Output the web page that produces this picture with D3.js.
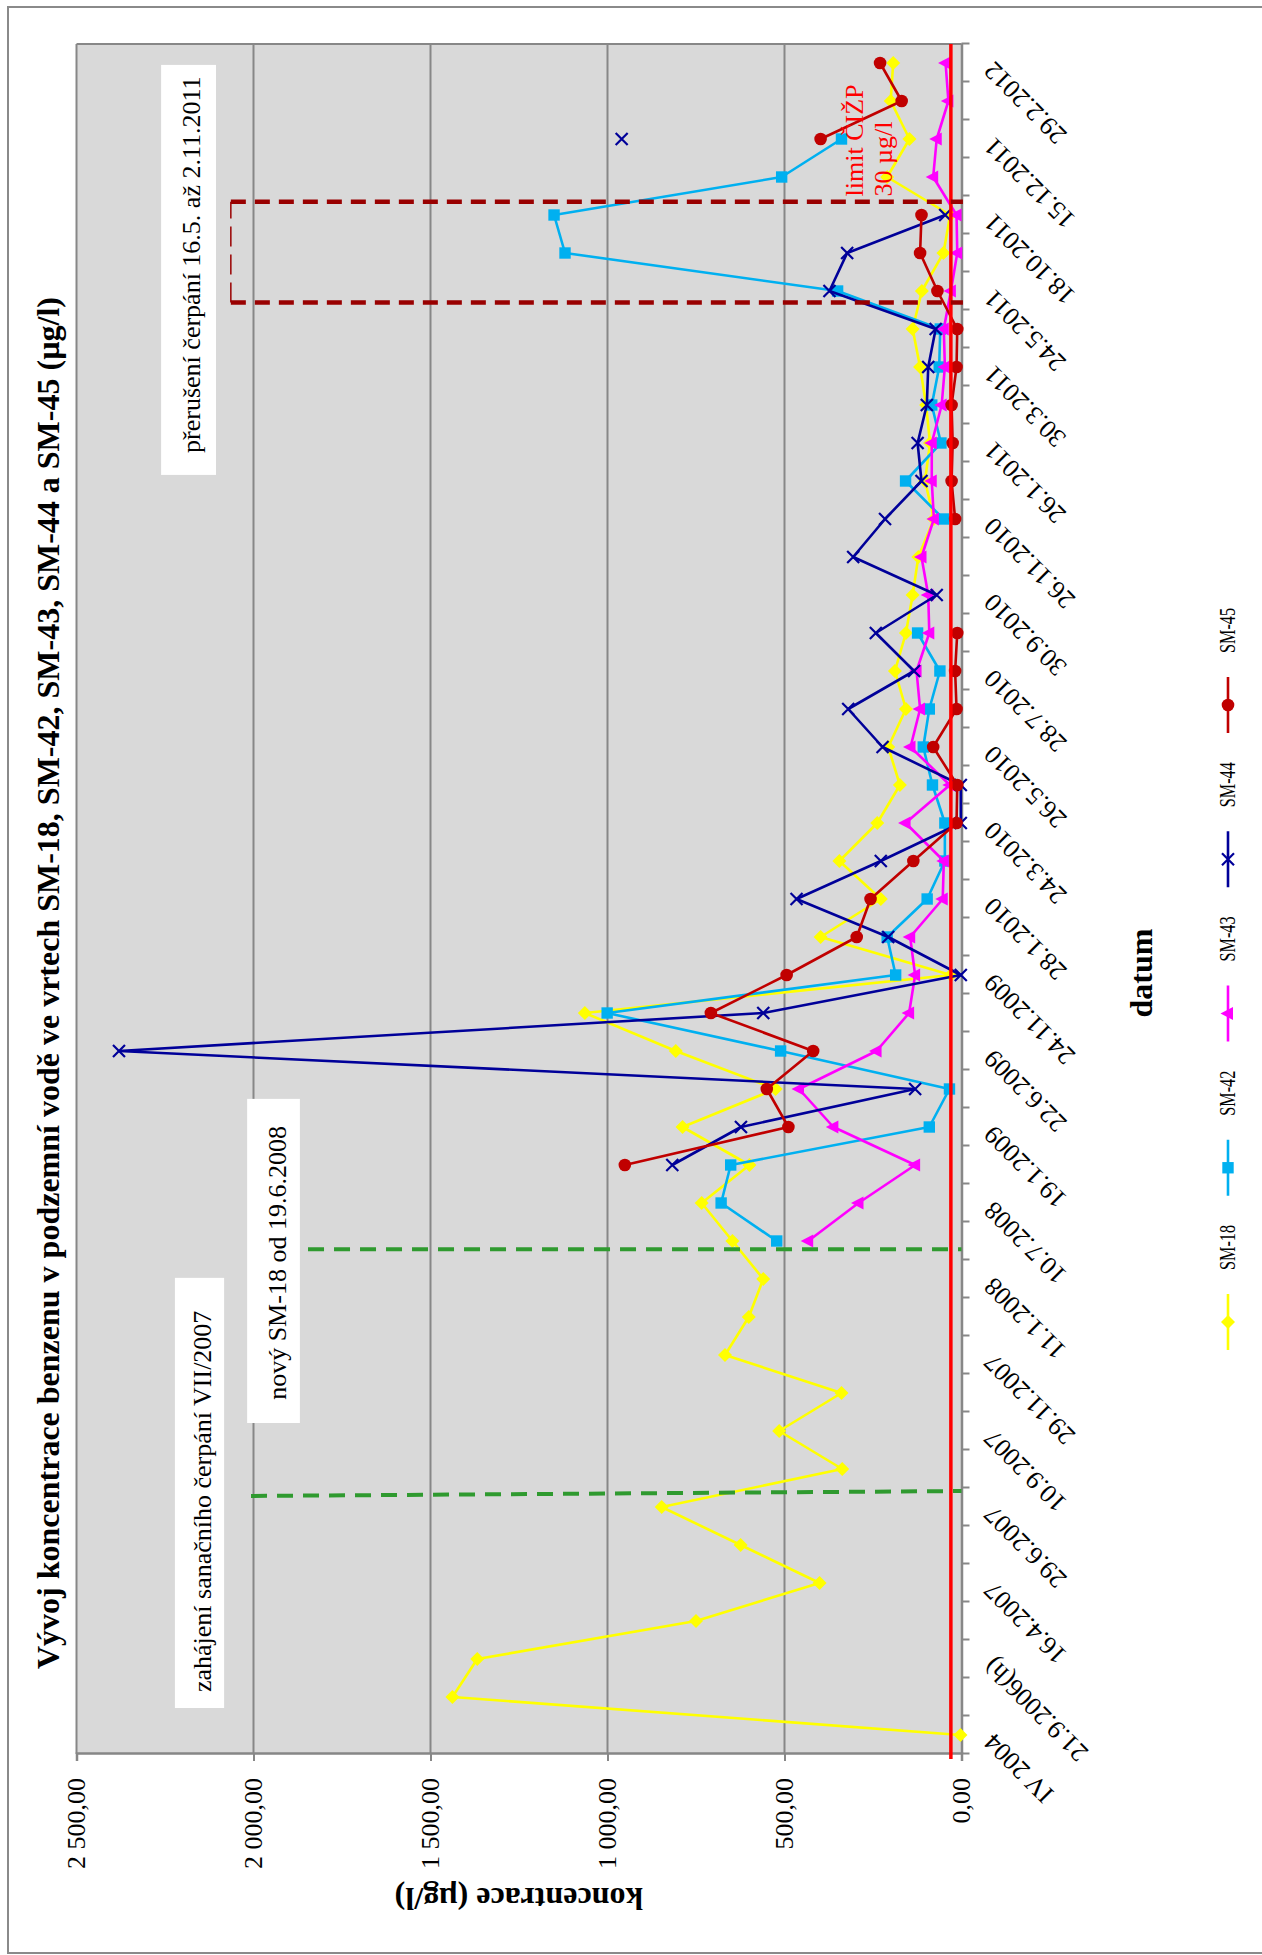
<!DOCTYPE html>
<html>
<head>
<meta charset="utf-8">
<script src="https://cdn.jsdelivr.net/npm/d3@7"></script>
<style>
  body { margin: 0; background: #fff; }
  svg { display: block; }
  text { font-family: "Liberation Serif", "Times New Roman", serif; }
</style>
</head>
<body>
<svg id="chart" width="1262" height="1955"></svg>
<script>
// ---- data -------------------------------------------------------------
// sampling campaigns (45 slots); only every second one carries a date label
const categories = d3.range(45);
const tickLabels = ["IV 2004", "21.9.2006(h)", "16.4.2007", "29.6.2007", "10.9.2007",
  "29.11.2007", "11.1.2008", "10.7.2008", "19.1.2009", "22.6.2009", "24.11.2009",
  "28.1.2010", "24.3.2010", "26.5.2010", "28.7.2010", "30.9.2010", "26.11.2010",
  "26.1.2011", "30.3.2011", "24.5.2011", "18.10.2011", "15.12.2011", "29.2.2012"];
const valueTicks = [0, 500, 1000, 1500, 2000, 2500];

const seriesNames = ["SM-18", "SM-42", "SM-43", "SM-44", "SM-45"];
const sm18 = [3, 1438, 1368, 750, 401, 624, 847, 337, 515, 339, 668, 601, 560, 647, 734,
  599, 788, 525, 807, 1064, 30, 398, 228, 345, 238, 174, 207, 157, 188, 157, 138, 122,
  78, 103, 89, 100, 117, 138, 112, 51, 32, 210, 147, 200, 193];
const sm42 = [null, null, null, null, null, null, null, null, null, null, null, null, null,
  522, 679, 652, 91, 34, 511, 1001, 186, 210, 97, 47, 47, 82, 108, 91, 61, 124, null, null,
  51, 158, 58, 84, 63, 60, 350, 1120, 1151, 508, 339, null, null];
const sm43 = [null, null, null, null, null, null, null, null, null, null, null, null, null,
  433, 291, 131, 362, 459, 240, 148, 131, 145, 53, 50, 158, 33, 144, 117, 127, 91, 94, 113,
  78, 84, 84, 56, 47, 50, 30, 12, 14, 80, 70, 37, 45];
const sm44 = [null, null, null, null, null, null, null, null, null, null, null, null, null,
  null, null, 817, 623, 131, 2380, 560, 2, 207, 466, 228, 2, 2, 223, 320, 134, 242, 70,
  306, 216, 113, 124, 98, 94, 73, 373, 323, 46, null, 960, null, null];
const sm45 = [null, null, null, null, null, null, null, null, null, null, null, null, null,
  null, null, 951, 489, 550, 419, 708, 494, 296, 257, 136, 14, 12, 80, 14, 18, 12, null,
  null, 18, 28, 25, 28, 14, 12, 68, 117, 113, null, 398, 169, 230];
const seriesValues = [sm18, sm42, sm43, sm44, sm45];

const limitValue = 30; // limit ČIŽP, µg/l

// ---- styling ----------------------------------------------------------
const seriesColors = ["#ffff00", "#00b0f0", "#ff00ff", "#000099", "#c00000"];
const seriesMarkers = ["diamond", "square", "triangle", "cross", "circle"];
const axisGrey = "#878787";

// ---- frame ------------------------------------------------------------
// The chart is laid out in a landscape frame (1955 x 1262) and turned
// a quarter turn counter-clockwise onto the portrait page.
const FW = 1955;
const plot = { left: 201, right: 1911, top: 76.5, bottom: 961.5 };

const svg = d3.select("#chart");

// outer frame
svg.append("path")
  .attr("d", "M1262,7 L8,7 L8,1953 L1262,1953")
  .attr("fill", "none").attr("stroke", "#8a8a8a").attr("stroke-width", 2);

const g = svg.append("g").attr("transform", `translate(0,${FW}) rotate(-90)`);

const x = d3.scaleBand().domain(categories).range([plot.left, plot.right]).paddingInner(0).paddingOuter(0);
const y = d3.scaleLinear().domain([0, 2500]).range([plot.bottom, plot.top]);
const bw = x.bandwidth();
// position of a (possibly fractional) category index
const cx = c => x(0) + bw / 2 + c * x.step();

// plot background
g.append("rect")
  .attr("x", plot.left).attr("y", plot.top)
  .attr("width", plot.right - plot.left).attr("height", plot.bottom - plot.top)
  .attr("fill", "#d9d9d9");

// horizontal gridlines
g.append("g").selectAll("line").data(valueTicks.filter(v => v > 0))
  .join("line")
  .attr("x1", plot.left).attr("x2", plot.right)
  .attr("y1", d => y(d)).attr("y2", d => y(d))
  .attr("stroke", axisGrey).attr("stroke-width", 2);

// right edge of plot area
g.append("line")
  .attr("x1", plot.right).attr("x2", plot.right)
  .attr("y1", plot.top).attr("y2", plot.bottom)
  .attr("stroke", axisGrey).attr("stroke-width", 2);

// value axis
const fmt = d3.formatLocale({ decimal: ",", thousands: "\u00a0", grouping: [3], currency: ["", ""] }).format(",.2f");
const yAxis = g.append("g")
  .attr("transform", `translate(${plot.left},0)`)
  .call(d3.axisLeft(y).tickValues(valueTicks).tickFormat(fmt).tickSize(7).tickPadding(17));
yAxis.attr("font-family", null).attr("font-size", null);
yAxis.select(".domain").attr("stroke", axisGrey).attr("stroke-width", 2.5);
yAxis.selectAll(".tick line").attr("stroke", axisGrey).attr("stroke-width", 2);
yAxis.selectAll(".tick text").attr("font-size", 26).attr("fill", "#000");

// category axis (tick marks between samples)
const xb = d3.scaleLinear().domain([0, categories.length]).range([plot.left, plot.right]);
const xAxis = g.append("g")
  .attr("transform", `translate(0,${plot.bottom})`)
  .call(d3.axisBottom(xb).tickValues(d3.range(categories.length + 1)).tickFormat("").tickSize(8).tickSizeOuter(0));
xAxis.select(".domain").attr("stroke", axisGrey).attr("stroke-width", 2.5);
xAxis.selectAll(".tick line").attr("stroke", axisGrey).attr("stroke-width", 2);

// date labels on every second sample
g.append("g").selectAll("text").data(tickLabels)
  .join("text")
  .attr("transform", (d, i) => `translate(${cx(i * 2) + 3},${plot.bottom + 33}) rotate(-45)`)
  .attr("text-anchor", "end")
  .attr("font-size", 26)
  .attr("fill", "#000")
  .text(d => d);

// ---- series -----------------------------------------------------------
function markerPath(type) {
  switch (type) {
    case "diamond": return "M0,-7L7,0L0,7L-7,0Z";
    case "square": return "M-5.7,-5.7H5.7V5.7H-5.7Z";
    case "triangle": return "M0,-7.5L6.5,5L-6.5,5Z";
    case "cross": return "M-6,-6L6,6M-6,6L6,-6";
    default: return null;
  }
}

const line = d3.line()
  .defined(d => d.v != null)
  .x(d => x(d.c) + bw / 2)
  .y(d => y(d.v));

const seriesG = g.append("g");
seriesNames.forEach((name, si) => {
  const pts = categories.map(c => ({ c, v: seriesValues[si][c] }));
  const color = seriesColors[si];
  const sg = seriesG.append("g").attr("class", "series");
  sg.append("path")
    .attr("d", line(pts))
    .attr("fill", "none").attr("stroke", color)
    .attr("stroke-width", 2.6).attr("stroke-linejoin", "round");
  const m = sg.selectAll("g.m").data(pts.filter(d => d.v != null))
    .join("g").attr("class", "m")
    .attr("transform", d => `translate(${x(d.c) + bw / 2},${y(d.v)})`);
  const type = seriesMarkers[si];
  if (type === "circle") {
    m.append("circle").attr("r", 6.3).attr("fill", color);
  } else if (type === "cross") {
    m.append("path").attr("d", markerPath(type)).attr("fill", "none")
      .attr("stroke", color).attr("stroke-width", 2.2);
  } else {
    m.append("path").attr("d", markerPath(type)).attr("fill", color);
  }
});

// limit line
g.append("line")
  .attr("x1", plot.left - 5).attr("x2", plot.right)
  .attr("y1", y(limitValue)).attr("y2", y(limitValue))
  .attr("stroke", "#ff0000").attr("stroke-width", 3.5);

g.append("text")
  .attr("x", cx(40.49)).attr("y", y(278))
  .attr("font-size", 26).attr("fill", "#ff0000")
  .text("limit ČIŽP");
g.append("text")
  .attr("x", cx(40.49)).attr("y", y(197))
  .attr("font-size", 26).attr("fill", "#ff0000")
  .text("30 µg/l");

// ---- annotations ------------------------------------------------------
const green = "#2f9a2f";
// start of remediation pumping VII/2007
g.append("line")
  .attr("x1", cx(6.29)).attr("y1", y(2007))
  .attr("x2", cx(6.42)).attr("y2", y(0))
  .attr("stroke", green).attr("stroke-width", 4).attr("stroke-dasharray", "16,10");
// new well SM-18
g.append("line")
  .attr("x1", cx(12.78)).attr("y1", y(1846))
  .attr("x2", cx(12.78)).attr("y2", y(0))
  .attr("stroke", green).attr("stroke-width", 4).attr("stroke-dasharray", "16,10");

// pumping interruption window
const darkRed = "#990000";
[37.7, 40.35].forEach(c => {
  g.append("line")
    .attr("x1", cx(c)).attr("x2", cx(c))
    .attr("y1", y(2064)).attr("y2", y(-4))
    .attr("stroke", darkRed).attr("stroke-width", 4.5).attr("stroke-dasharray", "15,9");
});
g.append("line")
  .attr("x1", cx(37.7)).attr("x2", cx(40.35))
  .attr("y1", y(2064)).attr("y2", y(2064))
  .attr("stroke", darkRed).attr("stroke-width", 1.5).attr("stroke-dasharray", "20,8");

// text boxes
const notes = [
  { c0: 0.71, c1: 12.03, v0: 2083, v1: 2222, tc: 1.13, tv: 2120, text: "zahájení sanačního čerpání VII/2007" },
  { c0: 8.21, c1: 16.74, v0: 1869, v1: 2018, tc: 8.82, tv: 1908, text: "nový SM-18 od 19.6.2008" },
  { c0: 33.16, c1: 43.95, v0: 2106, v1: 2261, tc: 33.74, tv: 2151, text: "přerušení čerpání 16.5. až 2.11.2011" }
];
const noteG = g.append("g").selectAll("g").data(notes).join("g");
noteG.append("rect")
  .attr("x", d => cx(d.c0)).attr("y", d => y(d.v1))
  .attr("width", d => cx(d.c1) - cx(d.c0)).attr("height", d => y(d.v0) - y(d.v1))
  .attr("fill", "#fff");
noteG.append("text")
  .attr("x", d => cx(d.tc)).attr("y", d => y(d.tv))
  .attr("font-size", 26).attr("fill", "#000")
  .text(d => d.text);

// ---- titles -----------------------------------------------------------
g.append("text")
  .attr("x", 972).attr("y", 59)
  .attr("text-anchor", "middle").attr("font-size", 32).attr("font-weight", "bold")
  .text("Vývoj koncentrace benzenu v podzemní vodě ve vrtech SM-18, SM-42, SM-43, SM-44 a SM-45 (µg/l)");

g.append("text")
  .attr("transform", `translate(67,${(plot.top + plot.bottom) / 2}) rotate(-90)`)
  .attr("text-anchor", "middle").attr("font-size", 32).attr("font-weight", "bold")
  .text("koncentrace (µg/l)");

g.append("text")
  .attr("x", 982).attr("y", 1152)
  .attr("text-anchor", "middle").attr("font-size", 32).attr("font-weight", "bold")
  .text("datum");

// ---- legend -----------------------------------------------------------
const legendY = 1228;
const legend = g.append("g").selectAll("g").data(seriesNames).join("g")
  .attr("transform", (d, i) => `translate(${633 + i * 154.25},${legendY})`);
legend.append("line")
  .attr("x1", -28).attr("x2", 28)
  .attr("stroke", (d, i) => seriesColors[i]).attr("stroke-width", 2.6);
legend.each(function (d, i) {
  const sel = d3.select(this);
  const type = seriesMarkers[i];
  if (type === "circle") sel.append("circle").attr("r", 6.3).attr("fill", seriesColors[i]);
  else if (type === "cross") sel.append("path").attr("d", markerPath(type)).attr("fill", "none")
    .attr("stroke", seriesColors[i]).attr("stroke-width", 2.2);
  else sel.append("path").attr("d", markerPath(type)).attr("fill", seriesColors[i]);
});
legend.append("text")
  .attr("x", 52).attr("y", 7)
  .attr("font-size", 23)
  .attr("textLength", 45).attr("lengthAdjust", "spacingAndGlyphs")
  .attr("fill", "#000")
  .text(d => d);
</script>
</body>
</html>
